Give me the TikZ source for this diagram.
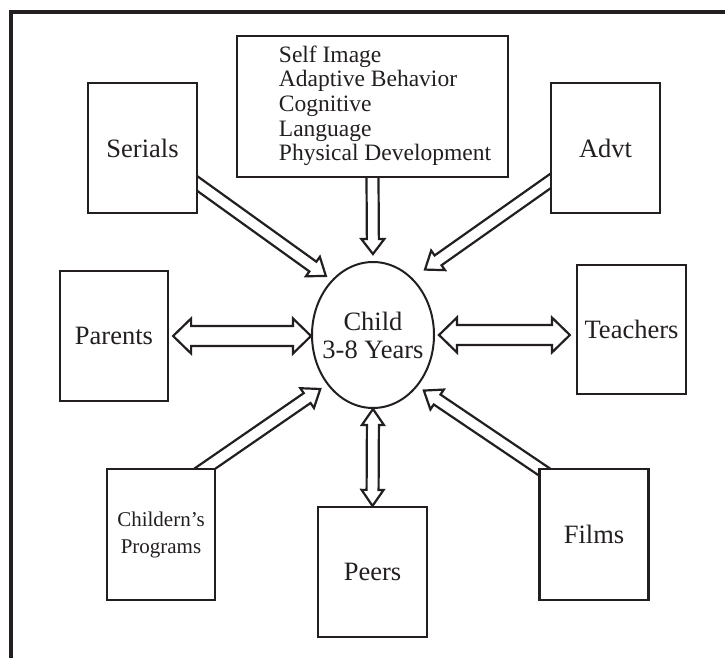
\documentclass[tikz,border=0pt]{standalone}
\usepackage{fontspec}
\setmainfont{Liberation Serif}
\usetikzlibrary{shapes.geometric,calc,backgrounds}
\definecolor{ink}{HTML}{231F20}

\begin{document}
\begin{tikzpicture}[
x=1pt, y=-1pt,
box/.style={
    draw=ink,
    rectangle,
    fill=white,
    line width=2.2pt,
    minimum width=109pt,
    minimum height=130pt,
    inner sep=0pt,
    align=center,
    text=ink,
    font=\fontsize{26.5}{28}\selectfont
},
child/.style={
    draw=ink,
    ellipse,
    fill=white,
    line width=2pt,
    minimum width=122pt,
    minimum height=146pt,
    inner xsep=-9pt,
    inner ysep=0pt,
    align=center,
    text=ink,
    font=\fontsize{26.5}{28}\selectfont
},
% shaft half width, head half width, head length, gap at the tip
fat/.style n args={4}{
    draw=ink, fill=white, line width=2.2pt, line join=miter,
    to path={
        (\tikztostart) coordinate (fa-a)
        (\tikztotarget) coordinate (fa-b)
        ($(fa-a)!-14pt!(fa-b)$) coordinate (fa-s)
        ($(fa-b)!#4!(fa-a)$) coordinate (fa-t)
        ($(fa-t)!#3!(fa-s)$) coordinate (fa-h)
        ($(fa-s)!#1!90:(fa-t)$) -- ($(fa-h)!#1!90:(fa-t)$) -- ($(fa-h)!#2!90:(fa-t)$)
        -- (fa-t) -- ($(fa-h)!#2!-90:(fa-t)$) -- ($(fa-h)!#1!-90:(fa-t)$)
        -- ($(fa-s)!#1!-90:(fa-t)$) -- cycle
    }
},
% shaft half width, head half width, head length, gap at start, gap at end
dfat/.style n args={5}{
    draw=ink, fill=white, line width=2.2pt, line join=miter,
    to path={
        (\tikztostart) coordinate (fa-a)
        (\tikztotarget) coordinate (fa-b)
        ($(fa-a)!#4!(fa-b)$) coordinate (fa-s)
        ($(fa-b)!#5!(fa-a)$) coordinate (fa-t)
        ($(fa-s)!#3!(fa-t)$) coordinate (fa-g)
        ($(fa-t)!#3!(fa-s)$) coordinate (fa-h)
        (fa-s) -- ($(fa-g)!#2!90:(fa-t)$) -- ($(fa-g)!#1!90:(fa-t)$)
        -- ($(fa-h)!#1!90:(fa-t)$) -- ($(fa-h)!#2!90:(fa-t)$) -- (fa-t)
        -- ($(fa-h)!#2!-90:(fa-t)$) -- ($(fa-h)!#1!-90:(fa-t)$)
        -- ($(fa-g)!#1!-90:(fa-t)$) -- ($(fa-g)!#2!-90:(fa-t)$) -- cycle
    }
}
]

\useasboundingbox (0,0) rectangle (725,658);

% frame
\draw[ink, line width=4pt, line join=miter] (10.5,680) -- (10.5,12) -- (745,12);

\node[box, minimum width=271pt, minimum height=141pt,
      font=\fontsize{23.5}{24.7}\selectfont] (factors) at (372.5,106.5) {%
\hspace*{25pt}\begin{tabular}{@{}l@{}}
Self Image\\
Adaptive Behavior\\
Cognitive\\
Language\\
Physical Development
\end{tabular}};

\node[child] (child) at (373,335) {Child\\3-8 Years};

\node[box] (serials) at (142.5,148) {Serials};
\node[box] (advt) at (605.5,148) {Advt};
\node[box, minimum width=108pt] (parents) at (114,336) {Parents};
\node[box, minimum height=129pt] (teachers) at (631.5,329.5) {Teachers};
\node[box, minimum width=108pt, minimum height=131pt,
      font=\fontsize{21}{27}\selectfont] (progs) at (161,534.5) {Childern's\\Programs};
\node[box, minimum height=131pt] (films) at (594,534.5) {Films};
\node[box] (peers) at (372.5,572) {Peers};

\begin{scope}[on background layer]
% Factors -- Child
\draw[fat={6pt}{11.5pt}{15pt}{7pt}] (factors.south) to (child.north);
% Serials -- Child
\draw[fat={6pt}{12pt}{16pt}{7pt}] (serials.-33) to (child.127);
% Advt -- Child
\draw[fat={6pt}{12pt}{16pt}{15pt}] (advt.-149) to (child.55);
% Childern's Programs -- Child
\draw[fat={6pt}{12pt}{16pt}{8pt}] (progs.56) to (child.-133);
% Films -- Child
\draw[fat={6pt}{12pt}{16pt}{7.5pt}] (films.north west) to (child.-49);
\end{scope}

% Parents -- Child
\draw[dfat={10pt}{17.5pt}{18pt}{4pt}{0pt}] (parents.east) to (parents.east -| child.west);
% Child -- Teachers
\draw[dfat={10pt}{17.5pt}{18pt}{4pt}{6pt}] (child.east) to (child.east -| teachers.west);
% Child -- Peers
\draw[dfat={6pt}{11pt}{16pt}{0pt}{0pt}] (child.south) to (peers.north);

\end{tikzpicture}
\end{document}
